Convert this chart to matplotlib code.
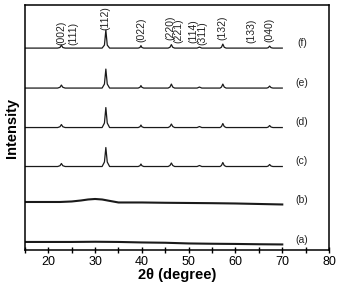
import matplotlib
matplotlib.use("Agg")
import matplotlib.pyplot as plt
from matplotlib.ticker import MultipleLocator

plt.rcParams['font.family'] = ['Liberation Sans', 'DejaVu Sans']

# crystalline traces (c)-(f): shared 2theta vertices, heights above baseline
x_cryst = [15, 22.0, 22.5, 22.8, 23.1, 23.6,
           31.5, 32.0, 32.3, 32.6, 33.1,
           39.2, 39.6, 39.8, 40.0, 40.4,
           45.6, 46.0, 46.3, 46.6, 47.0,
           51.8, 52.3, 52.8,
           56.7, 57.0, 57.3, 57.6, 58.0,
           66.7, 67.0, 67.3, 67.6, 68.0, 70]
h_f = [0, 0, 0.6, 3, 0.6, 0,
       0, 3, 18, 3, 0,
       0, 0.6, 2.5, 0.6, 0,
       0, 0.8, 3.5, 0.8, 0,
       0, 1, 0,
       0, 0.8, 4, 0.8, 0,
       0, 0.4, 2, 0.4, 0, 0]
h_e = [0, 0, 0.8, 3, 0.8, 0,
       0, 4, 19, 4, 0,
       0, 0.8, 2.5, 0.8, 0,
       0, 1, 4, 1, 0,
       0, 1, 0,
       0, 1, 4, 1, 0,
       0, 0.5, 2, 0.5, 0, 0]
h_d = [0, 0, 0.8, 3, 0.8, 0,
       0, 4.5, 20, 4.5, 0,
       0, 0.8, 2.5, 0.8, 0,
       0, 1, 3.5, 1, 0,
       0, 1, 0,
       0, 1, 4, 1, 0,
       0, 0.5, 2, 0.5, 0, 0]
h_c = [0, 0, 0.8, 3, 0.8, 0,
       0, 4.5, 19, 4.5, 0,
       0, 0.8, 2.5, 0.8, 0,
       0, 1, 3.5, 1, 0,
       0, 1, 0,
       0, 1, 4, 1, 0,
       0, 0.5, 2, 0.5, 0, 0]

# amorphous traces (a), (b)
x_b = [15, 17.5, 20, 22.5, 25, 27, 28.5, 30, 31.5, 33, 35, 37.5, 40, 45, 50, 55, 60, 65, 70]
h_b = [0, 0, 0, 0, 0.5, 1.5, 2.5, 3, 2.5, 1.2, -0.5, -0.5, -0.5, -0.8, -1, -1.2, -1.5, -2, -2.5]
x_a = [15, 20, 25, 30, 35, 40, 45, 50, 55, 60, 65, 70]
h_a = [0, 0, 0, 0.2, 0, -0.5, -0.8, -1.5, -1.8, -2, -2.3, -2.5]

offsets = {"f": 202, "e": 162, "d": 122.5, "c": 83.5, "b": 48, "a": 8}
letter_y = {"f": 207, "e": 167, "d": 128, "c": 89, "b": 50, "a": 10}

hkl_labels = ["(002)", "(111)", "(112)", "(022)", "(220)", "(221)",
              "(114)", "(311)", "(132)", "(133)", "(040)"]
hkl_x = [22.8, 25.3, 32.3, 39.8, 46.0, 47.9, 51.0, 53.0, 57.3, 63.5, 67.3]
hkl_y = [205, 205, 220, 208, 210, 207, 207, 205, 210, 207, 208]

fig = plt.figure(figsize=(3.41, 2.85), dpi=100)
ax = fig.add_axes([0.073, 0.123, 0.892, 0.859])

col = "#1a1a1a"
for key, h in [("f", h_f), ("e", h_e), ("d", h_d), ("c", h_c)]:
    ax.plot(x_cryst, [offsets[key] + v for v in h], color=col, lw=0.9)
ax.plot(x_b, [offsets["b"] + v for v in h_b], color=col, lw=1.5)
ax.plot(x_a, [offsets["a"] + v for v in h_a], color=col, lw=1.5)

for k in ["f", "e", "d", "c", "b", "a"]:
    ax.text(74.2, letter_y[k], "(%s)" % k, ha="center", va="center",
            fontsize=7.5, color="#222222")

for lab, xx, yy in zip(hkl_labels, hkl_x, hkl_y):
    ax.text(xx, yy, lab, rotation=90, ha="center", va="bottom",
            fontsize=7.5, color="#222222")

ax.set_xlim(15, 80)
ax.set_ylim(0, 245)
ax.set_yticks([])
ax.xaxis.set_major_locator(MultipleLocator(10))
ax.xaxis.set_minor_locator(MultipleLocator(5))
ax.set_xticks([20, 30, 40, 50, 60, 70, 80])
ax.tick_params(axis="x", which="both", direction="inout", length=4, width=1,
               labelsize=9, pad=2)
for s in ax.spines.values():
    s.set_linewidth(1.1)

ax.set_xlabel("2θ (degree)", fontsize=10.5, fontweight="bold", labelpad=0)
ax.set_ylabel("Intensity", fontsize=10.5, fontweight="bold", labelpad=4)

fig.savefig("out.png", dpi=100)
